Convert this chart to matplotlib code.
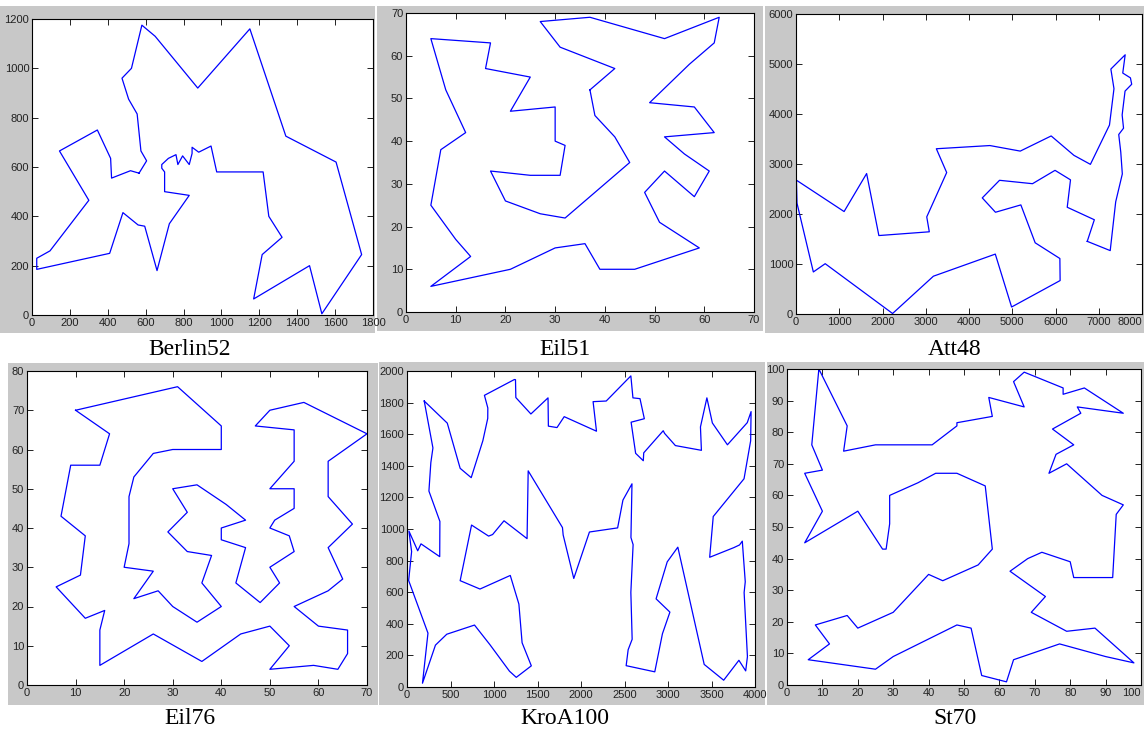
import numpy as np
import matplotlib
matplotlib.use("Agg")
import matplotlib.pyplot as plt
from matplotlib.patches import Rectangle

# tour coordinates, in visiting order (the tour is closed when drawn)
berlin_x = [565, 605, 575, 555, 510, 475, 525, 580, 650, 875, 1150, 1340, 1605, 1740, 1530, 1465, 1170, 1215,
            1320, 1250, 1220, 975, 945, 880, 845, 845, 835, 830, 795, 770, 760, 720, 685, 685, 700, 700, 830,
            725, 660, 595, 560, 480, 410, 25, 25, 95, 300, 145, 345, 415, 420, 520]
berlin_y = [575, 625, 665, 815, 875, 960, 1000, 1175, 1130, 920, 1160, 725, 620, 245, 5, 200, 65, 245,
            315, 400, 580, 580, 685, 660, 680, 655, 625, 610, 645, 610, 650, 635, 610, 595, 580, 500, 485,
            370, 180, 360, 365, 415, 250, 185, 230, 260, 465, 665, 750, 635, 555, 585]

eil51_x = [37, 42, 31, 27, 37, 43, 52, 63, 62, 57, 49, 58, 62, 52, 56, 61, 58, 52, 48, 51, 59, 46, 39, 36, 30,
           21, 5, 13, 10, 5, 7, 12, 8, 5, 17, 16, 25, 21, 30, 30, 32, 31, 25, 17, 20, 27, 32, 40, 45, 42, 38]
eil51_y = [52, 57, 62, 68, 69, 67, 64, 69, 63, 58, 49, 48, 42, 41, 37, 33, 27, 33, 28, 21, 15, 10, 10, 16, 15,
           10, 6, 13, 17, 25, 38, 42, 52, 64, 63, 57, 55, 47, 48, 40, 39, 32, 32, 33, 26, 23, 22, 30, 35, 41, 46]

att48_x = [6734, 7265, 7392, 7545, 7509, 7462, 7573, 7541, 7608, 7762, 7732, 7555, 7611, 7280, 7352, 7248,
           6807, 6426, 5900, 5185, 4483, 3245, 3484, 3023, 3082, 1916, 1633, 1112, 10, 23, 401, 675, 2233,
           3177, 4608, 4985, 6107, 6101, 5530, 5199, 4612, 4307, 4706, 5468, 5989, 6347, 6271, 6898]
att48_y = [1453, 1268, 2244, 2801, 3239, 3590, 3716, 3981, 4458, 4595, 4723, 4819, 5184, 4899, 4506, 3779,
           2993, 3173, 3561, 3258, 3369, 3305, 2829, 1942, 1644, 1569, 2809, 2049, 2676, 2216, 841, 1006, 10,
           756, 1198, 140, 669, 1110, 1424, 2182, 2035, 2322, 2674, 2606, 2873, 2683, 2135, 1885]

eil76_x = [10, 31, 40, 40, 35, 30, 26, 22, 21, 21, 21, 20, 26, 22, 27, 30, 35, 40, 36, 38, 33, 29, 33, 30, 35,
           41, 45, 40, 40, 45, 43, 48, 52, 50, 55, 54, 50, 51, 55, 55, 50, 55, 55, 47, 50, 57, 70, 62, 62, 67,
           62, 65, 62, 55, 60, 66, 66, 64, 59, 50, 54, 50, 44, 36, 26, 15, 15, 16, 12, 6, 11, 12, 7, 9, 15, 17]
eil76_y = [70, 76, 66, 60, 60, 60, 59, 53, 48, 45, 36, 30, 29, 22, 24, 20, 16, 20, 26, 33, 34, 39, 44, 50, 51,
           46, 42, 40, 37, 35, 26, 21, 26, 30, 34, 38, 40, 42, 45, 50, 50, 57, 65, 66, 70, 72, 64, 57, 48, 41,
           35, 27, 24, 20, 15, 14, 8, 4, 5, 4, 10, 15, 13, 6, 13, 5, 14, 19, 17, 25, 28, 38, 43, 56, 56, 64]

kroa_x = [198, 463, 611, 738, 872, 928, 929, 890, 1234, 1247, 1251, 1424, 1621, 1625, 1724, 1807, 2178, 2139,
          2290, 2573, 2597, 2678, 2728, 2576, 2628, 2716, 2721, 2945, 2961, 3085, 3384, 3373, 3447, 3510, 3683,
          3911, 3955, 3950, 3874, 3520, 3479, 3756, 3822, 3854, 3888, 3875, 3913, 3893, 3815, 3640, 3416, 3113,
          2991, 2863, 3022, 2936, 2848, 2519, 2542, 2588, 2573, 2599, 2574, 2586, 2482, 2421, 2097, 1917, 1795,
          1787, 1393, 1380, 1115, 984, 938, 742, 611, 839, 1187, 1286, 1323, 1429, 1256, 1178, 953, 776, 457,
          327, 178, 241, 19, 53, 22, 123, 161, 376, 378, 252, 274, 298]
kroa_y = [1810, 1670, 1384, 1325, 1559, 1700, 1766, 1846, 1946, 1945, 1832, 1728, 1830, 1651, 1642, 1711, 1619,
          1806, 1810, 1969, 1830, 1825, 1698, 1676, 1479, 1432, 1482, 1622, 1605, 1528, 1498, 1646, 1830, 1671,
          1533, 1673, 1743, 1558, 1318, 1079, 821, 882, 899, 923, 666, 598, 192, 102, 169, 43, 143, 885, 792,
          558, 474, 337, 96, 135, 236, 302, 599, 901, 946, 1286, 1183, 1007, 981, 687, 962, 1009, 1368, 939,
          1052, 965, 955, 1025, 673, 620, 706, 525, 280, 134, 61, 100, 268, 392, 334, 265, 24, 341, 674, 857,
          987, 862, 906, 825, 1048, 1240, 1420, 1513]

st70_x = [9, 17, 16, 25, 41, 48, 48, 58, 57, 67, 64, 67, 78, 78, 84, 95, 82, 83, 75, 81, 76, 74, 79, 89, 95,
          93, 92, 81, 80, 72, 68, 63, 73, 69, 79, 87, 98, 90, 77, 64, 62, 55, 52, 48, 30, 25, 6, 12, 8, 17,
          20, 30, 40, 44, 54, 58, 56, 48, 42, 37, 29, 29, 28, 27, 20, 5, 10, 5, 10, 7]
st70_y = [100, 82, 74, 76, 76, 82, 83, 85, 91, 88, 96, 99, 94, 92, 94, 86, 88, 86, 81, 76, 73, 67, 70, 60, 57,
          54, 34, 34, 39, 42, 40, 36, 28, 23, 17, 18, 7, 9, 13, 8, 1, 3, 18, 19, 9, 5, 8, 13, 19, 22,
          18, 23, 35, 33, 38, 43, 63, 67, 67, 64, 60, 51, 43, 43, 55, 45, 55, 67, 68, 76]

names = ['Berlin52', 'Eil51', 'Att48', 'Eil76', 'KroA100', 'St70']
tours = [(berlin_x, berlin_y), (eil51_x, eil51_y), (att48_x, att48_y),
         (eil76_x, eil76_y), (kroa_x, kroa_y), (st70_x, st70_y)]
xlims = [(1800, 200), (70, 10), (8000, 1000), (70, 10), (4000, 500), (100, 10)]
ylims = [(1200, 200), (70, 10), (6000, 1000), (80, 10), (2000, 200), (100, 10)]

W, H = 1144, 733
fig = plt.figure(figsize=(W / 100, H / 100), dpi=100)
fig.patch.set_facecolor('white')

# pixel boxes: axes (left, right, top, bottom), gray frame, label centre
ax_px = [(32, 373, 19, 315), (406, 754, 13, 312), (796, 1142, 14, 314),
         (27, 367, 371, 685), (407, 755, 371, 687), (787, 1141, 369, 685)]
gray_px = [(0, 375, 6, 333), (377, 763, 6, 331), (765, 1144, 6, 333),
           (8, 378, 363, 705), (379, 765, 362, 705), (767, 1144, 362, 705)]
label_px = [(190, 350), (565, 350), (955, 350), (190, 718), (565, 718), (955, 718)]

for (l, r, t, b) in gray_px:
    fig.add_artist(Rectangle((l / W, 1 - b / H), (r - l) / W, (b - t) / H,
                             transform=fig.transFigure, facecolor='#c8c8c8',
                             edgecolor='none', zorder=-5))

for i in range(6):
    l, r, t, b = ax_px[i]
    ax = fig.add_axes([l / W, 1 - b / H, (r - l) / W, (b - t) / H], zorder=2)
    x = np.append(tours[i][0], tours[i][0][0])
    y = np.append(tours[i][1], tours[i][1][0])
    ax.plot(x, y, color='#0000ff', lw=0.9)
    xmax, xstep = xlims[i]
    ymax, ystep = ylims[i]
    ax.set_xlim(0, xmax)
    ax.set_ylim(0, ymax)
    ax.set_xticks(np.arange(0, xmax + 1, xstep))
    ax.set_yticks(np.arange(0, ymax + 1, ystep))
    ax.tick_params(direction='in', top=True, right=True, length=4, width=0.7,
                   labelsize=8, pad=2, colors='#222222')
    for lab in ax.get_xticklabels() + ax.get_yticklabels():
        lab.set_family('Liberation Sans')
    if i in (2, 5):
        # keep the last label inside the picture
        ax.get_xticklabels()[-1].set_horizontalalignment('right')
    for s in ax.spines.values():
        s.set_linewidth(0.8)
    lx, ly = label_px[i]
    fig.text(lx / W, 1 - ly / H, names[i], ha='center', va='center',
             fontsize=17, family='Liberation Serif')

fig.savefig('out.png', dpi=100, facecolor='white')
